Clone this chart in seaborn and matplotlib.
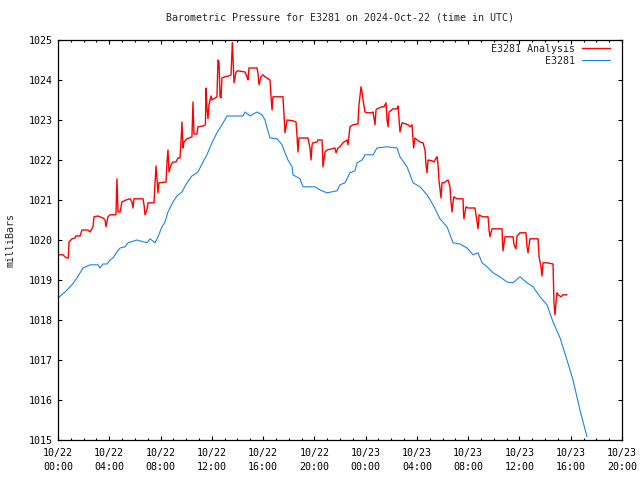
import numpy as np
import pandas as pd
import seaborn as sns
import matplotlib
matplotlib.use("Agg")
import matplotlib.pyplot as plt
import matplotlib.dates as mdates
from matplotlib.ticker import MultipleLocator

# hours since 2024-10-22 00:00 UTC, pressure in mb
station_hours = [0.00, 0.55, 1.09, 1.48, 1.95, 2.50, 3.12, 3.28, 3.51, 3.82, 4.06, 4.29, 4.60,
                 4.84, 5.23, 5.46, 6.16, 6.94, 7.18, 7.57, 7.80, 8.11, 8.35, 8.58, 8.97, 9.28,
                 9.67, 10.06, 10.45, 10.92, 11.31, 11.62, 12.01, 12.40, 12.79, 13.18, 14.43,
                 14.59, 14.98, 15.53, 15.92, 16.15, 16.31, 16.54, 17.09, 17.48, 17.71, 17.94,
                 18.26, 18.33, 18.88, 19.11, 19.66, 20.05, 20.44, 20.99, 21.77, 22.00, 22.39,
                 22.78, 23.17, 23.33, 23.72, 23.95, 24.58, 24.89, 25.67, 26.45, 26.68, 27.23,
                 27.70, 28.24, 28.79, 29.26, 29.80, 30.35, 30.82, 31.36, 31.91, 32.38, 32.77,
                 33.08, 33.47, 33.94, 34.48, 35.03, 35.50, 36.04, 36.59, 37.06, 37.60, 38.15,
                 38.62, 39.17, 39.71, 40.18, 40.72, 41.27]
station_mb = [1018.55, 1018.70, 1018.88, 1019.05, 1019.30, 1019.38, 1019.38, 1019.30, 1019.40,
              1019.40, 1019.50, 1019.55, 1019.70, 1019.80, 1019.83, 1019.93, 1020.00, 1019.93,
              1020.03, 1019.93, 1020.08, 1020.33, 1020.45, 1020.70, 1020.95, 1021.10, 1021.20,
              1021.43, 1021.60, 1021.70, 1021.95, 1022.13, 1022.43, 1022.68, 1022.88, 1023.10,
              1023.10, 1023.20, 1023.10, 1023.20, 1023.13, 1023.00, 1022.80, 1022.55, 1022.53,
              1022.38, 1022.18, 1022.00, 1021.83, 1021.63, 1021.53, 1021.33, 1021.33, 1021.33,
              1021.25, 1021.18, 1021.23, 1021.38, 1021.43, 1021.68, 1021.73, 1021.93, 1022.00,
              1022.13, 1022.13, 1022.30, 1022.33, 1022.30, 1022.08, 1021.83, 1021.43, 1021.33,
              1021.13, 1020.88, 1020.53, 1020.33, 1019.93, 1019.90, 1019.80, 1019.63, 1019.68,
              1019.43, 1019.33, 1019.18, 1019.08, 1018.95, 1018.93, 1019.08, 1018.93, 1018.83,
              1018.58, 1018.38, 1017.95, 1017.55, 1017.00, 1016.50, 1015.75, 1015.08]

analysis_hours = [0.00, 0.39, 0.55, 0.70, 0.80, 0.86, 1.09, 1.33, 1.40, 1.72, 1.87, 2.34, 2.50,
                  2.73, 2.81, 3.12, 3.51, 3.67, 3.74, 3.90, 4.06, 4.52, 4.60, 4.64, 4.68, 4.84,
                  4.99, 5.31, 5.62, 5.77, 5.85, 5.93, 6.63, 6.71, 6.79, 6.94, 7.02, 7.49, 7.57,
                  7.65, 7.72, 7.80, 7.88, 8.43, 8.50, 8.58, 8.66, 8.82, 8.97, 9.20, 9.36, 9.52,
                  9.60, 9.67, 9.75, 9.83, 10.06, 10.45, 10.53, 10.61, 10.84, 10.92, 11.31, 11.50,
                  11.55, 11.62, 11.70, 11.78, 11.94, 12.01, 12.25, 12.40, 12.48, 12.56, 12.64,
                  12.72, 12.79, 13.03, 13.34, 13.50, 13.57, 13.61, 13.65, 13.73, 13.89, 14.04,
                  14.59, 14.75, 14.82, 14.90, 15.53, 15.60, 15.68, 15.84, 15.99, 16.15, 16.54,
                  16.62, 16.70, 16.77, 17.55, 17.63, 17.71, 17.87, 18.33, 18.57, 18.65, 18.72,
                  18.80, 19.50, 19.66, 19.74, 19.82, 19.89, 20.21, 20.28, 20.60, 20.64, 20.67,
                  20.83, 20.99, 21.61, 21.69, 21.84, 22.00, 22.23, 22.55, 22.62, 22.78, 23.01,
                  23.40, 23.48, 23.64, 23.72, 23.80, 23.95, 24.11, 24.42, 24.58, 24.65, 24.73,
                  24.81, 24.89, 25.28, 25.43, 25.59, 25.67, 25.75, 25.82, 26.14, 26.45, 26.53,
                  26.60, 26.68, 26.84, 27.31, 27.46, 27.62, 27.70, 27.74, 27.85, 28.01, 28.24,
                  28.48, 28.63, 28.71, 28.79, 28.87, 29.18, 29.33, 29.49, 29.57, 29.65, 29.72,
                  29.88, 29.96, 30.11, 30.43, 30.58, 30.66, 30.74, 30.82, 30.89, 31.13, 31.60,
                  31.63, 31.67, 31.83, 31.99, 32.53, 32.69, 32.77, 32.85, 33.00, 33.16, 33.55,
                  33.63, 33.70, 33.86, 34.64, 34.68, 34.72, 34.87, 35.50, 35.58, 35.73, 35.81,
                  36.04, 36.51, 36.59, 36.67, 36.82, 37.45, 37.53, 37.68, 37.76, 37.84, 38.15,
                  38.62, 38.66, 38.69, 38.77, 38.85, 38.93, 39.01, 39.24, 39.40, 39.71]
analysis_mb = [1019.63, 1019.63, 1019.58, 1019.55, 1019.55, 1019.95, 1020.03, 1020.05, 1020.10,
               1020.10, 1020.25, 1020.25, 1020.20, 1020.33, 1020.58, 1020.60, 1020.55, 1020.50,
               1020.33, 1020.58, 1020.63, 1020.63, 1021.53, 1021.13, 1020.70, 1020.70, 1020.95,
               1021.00, 1021.03, 1020.95, 1020.80, 1021.03, 1021.03, 1020.88, 1020.63, 1020.75,
               1020.93, 1020.93, 1021.43, 1021.85, 1021.55, 1021.18, 1021.43, 1021.45, 1021.93,
               1022.25, 1021.70, 1021.88, 1021.95, 1021.95, 1022.05, 1022.05, 1022.50, 1022.95,
               1022.30, 1022.45, 1022.53, 1022.58, 1023.45, 1022.65, 1022.65, 1022.83, 1022.85,
               1022.88, 1023.80, 1023.30, 1023.03, 1023.38, 1023.60, 1023.50, 1023.55, 1023.58,
               1024.50, 1024.45, 1023.58, 1023.55, 1024.05, 1024.08, 1024.10, 1024.13, 1024.70,
               1024.93, 1024.58, 1023.93, 1024.20, 1024.23, 1024.20, 1024.08, 1024.00, 1024.30,
               1024.30, 1024.18, 1023.88, 1024.08, 1024.13, 1024.08, 1024.00, 1023.58, 1023.25,
               1023.58, 1023.58, 1023.13, 1022.68, 1023.00, 1022.98, 1022.95, 1022.58, 1022.20,
               1022.55, 1022.55, 1022.30, 1022.00, 1022.38, 1022.43, 1022.45, 1022.50, 1022.50,
               1022.20, 1021.83, 1022.20, 1022.25, 1022.30, 1022.18, 1022.30, 1022.33, 1022.43,
               1022.50, 1022.38, 1022.83, 1022.88, 1022.90, 1023.38, 1023.83, 1023.70, 1023.50,
               1023.20, 1023.18, 1023.18, 1023.20, 1023.05, 1022.88, 1023.25, 1023.28, 1023.33,
               1023.33, 1023.43, 1023.00, 1022.83, 1023.20, 1023.28, 1023.28, 1023.35, 1023.05,
               1022.70, 1022.93, 1022.88, 1022.83, 1022.88, 1022.50, 1022.30, 1022.55, 1022.50,
               1022.45, 1022.43, 1022.25, 1021.88, 1021.68, 1022.00, 1021.98, 1021.95, 1022.05,
               1022.08, 1021.88, 1021.50, 1021.05, 1021.43, 1021.43, 1021.50, 1021.33, 1020.95,
               1020.70, 1020.95, 1021.08, 1021.03, 1021.03, 1020.68, 1020.53, 1020.83, 1020.80,
               1020.80, 1020.45, 1020.28, 1020.63, 1020.60, 1020.58, 1020.58, 1020.25, 1020.08,
               1020.28, 1020.28, 1019.93, 1019.73, 1020.08, 1020.08, 1019.88, 1019.78, 1020.10,
               1020.18, 1020.18, 1019.83, 1019.68, 1020.03, 1020.03, 1019.58, 1019.33, 1019.10,
               1019.43, 1019.43, 1019.40, 1018.83, 1018.45, 1018.13, 1018.43, 1018.68, 1018.63,
               1018.58, 1018.63, 1018.63]

start = pd.Timestamp("2024-10-22 00:00")
end = pd.Timestamp("2024-10-23 20:00")

station = pd.DataFrame({"time": start + pd.to_timedelta(station_hours, unit="h"),
                        "mb": station_mb})
analysis = pd.DataFrame({"time": start + pd.to_timedelta(analysis_hours, unit="h"),
                         "mb": analysis_mb})

sns.set_style("ticks")
plt.rcParams["font.family"] = ["DejaVu Sans Mono"]
fs = 7.2

fig = plt.figure(figsize=(6.4, 4.8), dpi=100)
ax = fig.add_axes([58 / 640, 40 / 480, 564 / 640, 400 / 480])

sns.lineplot(data=analysis, x="time", y="mb", ax=ax, color="#ff0000", lw=1.0,
             estimator=None, sort=False, label="E3281 Analysis")
sns.lineplot(data=station, x="time", y="mb", ax=ax, color="#1a84ec", lw=0.8,
             estimator=None, sort=False, label="E3281")

ax.set_xlim(start, end)
ax.set_ylim(1015, 1025)
ax.xaxis.set_major_locator(mdates.HourLocator(byhour=range(0, 24, 4)))
ax.xaxis.set_minor_locator(mdates.HourLocator())
ax.xaxis.set_major_formatter(mdates.DateFormatter("%m/%d\n%H:%M"))
ax.yaxis.set_major_locator(MultipleLocator(1))

ax.tick_params(which="both", direction="in", top=True, right=True, color="black",
               width=0.8, labelsize=fs, labelcolor="black")
ax.tick_params(which="major", length=3.2)
ax.tick_params(which="minor", length=1.6)
ax.tick_params(axis="x", pad=6)
ax.tick_params(axis="y", pad=4)
for lbl in ax.get_xticklabels():
    lbl.set_linespacing(1.5)
for sp in ax.spines.values():
    sp.set_visible(True)
    sp.set_color("black")
    sp.set_linewidth(0.9)

ax.set_xlabel("")
ax.set_ylabel("milliBars", fontsize=fs, labelpad=9)
ax.set_title("Barometric Pressure for E3281 on 2024-Oct-22 (time in UTC)",
             fontsize=fs, pad=14)

ax.legend(loc="upper right", bbox_to_anchor=(0.986, 1.0), frameon=False,
          markerfirst=False, fontsize=fs, handlelength=2.8, handletextpad=0.7,
          labelspacing=0.2, borderaxespad=0.0, borderpad=0.4)

fig.savefig("out.png", dpi=100)
